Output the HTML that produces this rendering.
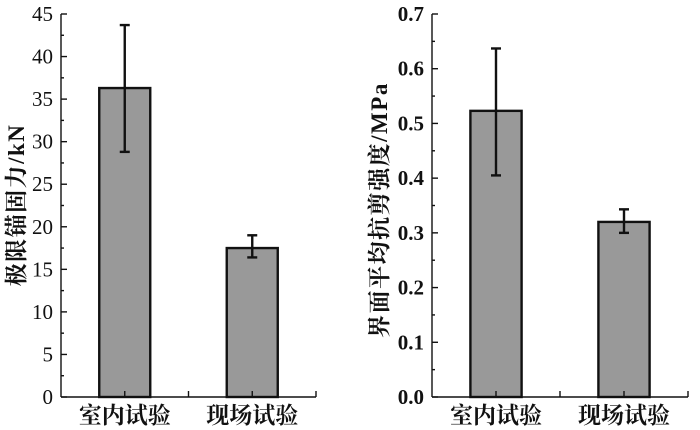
<!DOCTYPE html>
<html><head><meta charset="utf-8">
<style>
html,body{margin:0;padding:0;background:#fff;}
svg{display:block;}
text{font-family:"Liberation Serif","Noto Serif CJK SC",serif;fill:#111;}
</style></head>
<body>
<svg id="chart" width="700" height="430" viewBox="0 0 700 430" xmlns="http://www.w3.org/2000/svg"></svg>
<script>
const categories = ["室内试验", "现场试验"];
const forceValues = [36.3, 17.5];
const forceErrHigh = [43.7, 19.0];
const forceErrLow = [28.8, 16.4];
const forceTicks = [0, 5, 10, 15, 20, 25, 30, 35, 40, 45];
const shearValues = [0.523, 0.320];
const shearErrHigh = [0.637, 0.343];
const shearErrLow = [0.405, 0.300];
const shearTicks = ["0.0", "0.1", "0.2", "0.3", "0.4", "0.5", "0.6", "0.7"];

const svg = document.getElementById('chart');
const NS = 'http://www.w3.org/2000/svg';
function mk(tag, attrs, parent) {
  const el = document.createElementNS(NS, tag);
  for (const k in attrs) el.setAttribute(k, attrs[k]);
  (parent || svg).appendChild(el);
  return el;
}

function drawPanel(cfg) {
  const g = mk('g', {});
  
  
  const x0 = cfg.x0, x1 = cfg.x1, yTop = 14, yBot = 397;
  const ymax = cfg.ymax;
  const yScale = v => yBot - (v / ymax) * (yBot - yTop);
  const band = (x1 - x0) / categories.length;
  const xCenter = i => x0 + band * (i + 0.5);
  const barW = band * 0.4;

  cfg.values.forEach((v, i) => {
    const r = mk('rect', {x: xCenter(i) - barW / 2, y: yScale(v), width: barW, height: yBot - yScale(v), fill: '#999999', stroke: '#111', 'stroke-width': 2.4}, g);
    
    
  });
  cfg.values.forEach((v, i) => {
    const eg = mk('g', {stroke: '#111', 'stroke-width': 2.4, fill: 'none'}, g);
    
    
    const cx = xCenter(i), hi = yScale(cfg.hi[i]), lo = yScale(cfg.lo[i]);
    mk('line', {x1: cx, x2: cx, y1: hi, y2: lo}, eg);
    mk('line', {x1: cx - 5, x2: cx + 5, y1: hi, y2: hi}, eg);
    mk('line', {x1: cx - 5, x2: cx + 5, y1: lo, y2: lo}, eg);
  });
  const ax = mk('g', {stroke: '#111', 'stroke-width': 1.4}, g);
  
  
  mk('line', {x1: x0, x2: x0, y1: yTop, y2: yBot}, ax);
  mk('line', {x1: x0, x2: x1, y1: yBot, y2: yBot}, ax);
  const n = cfg.ticks.length;
  const step = ymax / (n - 1);
  cfg.ticks.forEach((t, i) => {
    const y = yScale(i * step);
    mk('line', {x1: x0, x2: x0 + 6, y1: y, y2: y}, ax);
    if (i < n - 1) {
      const ym = yScale(i * step + step / 2);
      mk('line', {x1: x0, x2: x0 + 3, y1: ym, y2: ym}, ax);
    }
    const tx = mk('text', {x: x0 - 8, y: y + 7, 'text-anchor': 'end', 'font-size': 21, 'font-weight': cfg.bold ? 'bold' : 'normal'}, g);
    
    
    tx.textContent = t;
  });
  for (let i = 1; i <= categories.length * 2; i++) {
    const x = x0 + band / 2 * i;
    mk('line', {x1: x, x2: x, y1: yBot, y2: yBot - 6}, ax);
  }
  categories.forEach((c, i) => {
    const tx = mk('text', {x: xCenter(i), y: 423, 'text-anchor': 'middle', 'font-size': 23, 'font-weight': 'bold'}, g);
    
    
    tx.textContent = c;
  });
  const tt = mk('text', {x: 0, y: 0, 'text-anchor': 'middle', 'font-size': 23, 'font-weight': 'bold', 'letter-spacing': 1.5, transform: 'translate(' + cfg.titleX + ',' + cfg.titleY + ') rotate(-90)'}, g);
  
  
  tt.textContent = cfg.title;
}

drawPanel({name: 'anchorage-force-chart', x0: 61, x1: 316, ymax: 45, bold: false, values: forceValues, hi: forceErrHigh, lo: forceErrLow, ticks: forceTicks, title: '极限锚固力/kN', titleX: 24, titleY: 205});
drawPanel({name: 'shear-strength-chart', x0: 432, x1: 688, ymax: 0.7, bold: true, values: shearValues, hi: shearErrHigh, lo: shearErrLow, ticks: shearTicks, title: '界面平均抗剪强度/MPa', titleX: 387, titleY: 210});
</script>
</body></html>
